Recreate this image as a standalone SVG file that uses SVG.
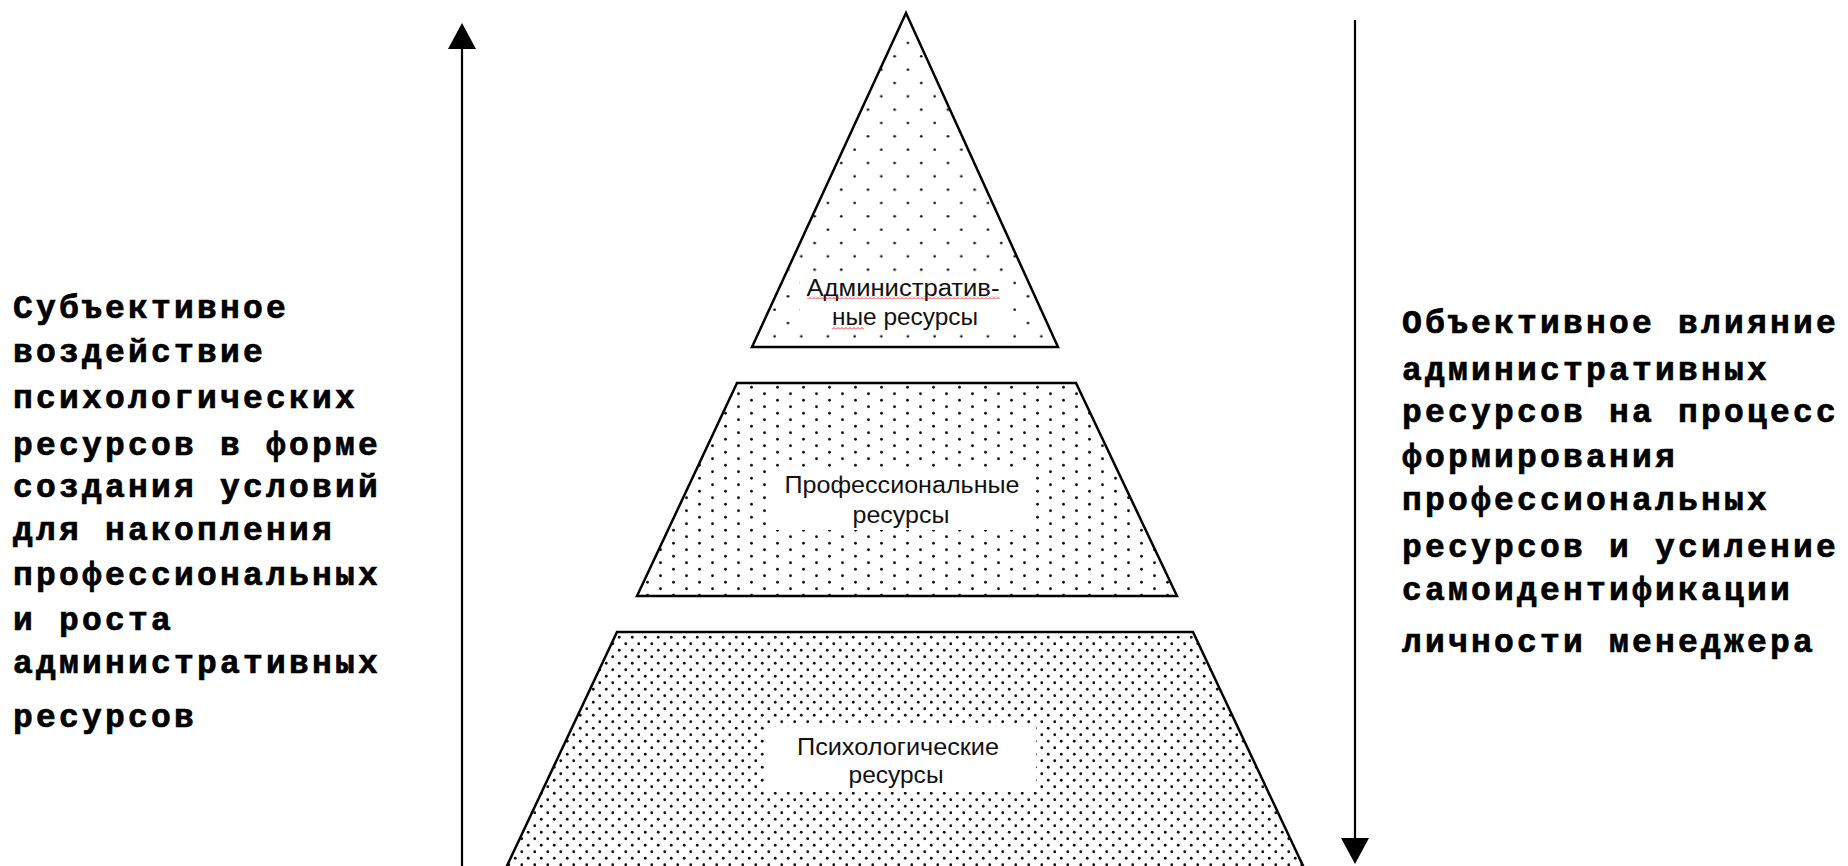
<svg xmlns="http://www.w3.org/2000/svg" width="1848" height="866" viewBox="0 0 1848 866">
<style>
.big{font-family:"Liberation Mono","DejaVu Sans Mono",monospace;font-weight:bold;font-size:33px;letter-spacing:3.2px;fill:#000;stroke:#000;stroke-width:0.7}
.lbl{font-family:"Liberation Sans Narrow","Liberation Sans",Arial,sans-serif;font-size:23px;fill:#111;text-anchor:middle}
.tier{stroke:#000;stroke-width:2.5;stroke-linejoin:miter}
.conn{stroke:#000;stroke-width:2.2;fill:none}
.box{fill:#fff;stroke:none}
</style>
<defs>
<pattern id="dotsTop" patternUnits="userSpaceOnUse" x="901.3" y="36.3" width="26.67" height="26.67">
<rect width="26.67" height="26.67" fill="#fff"/>
<circle cx="6.67" cy="6.67" r="1.35" fill="#111"/>
<circle cx="20" cy="20" r="1.35" fill="#111"/>
</pattern>
<pattern id="dotsMid" patternUnits="userSpaceOnUse" x="901" y="384" width="26" height="13">
<rect width="26" height="13" fill="#fff"/>
<circle cx="6.5" cy="3.25" r="1.4" fill="#111"/>
<circle cx="19.5" cy="9.75" r="1.4" fill="#111"/>
</pattern>
<pattern id="dotsBot" patternUnits="userSpaceOnUse" x="902" y="634" width="13" height="13">
<rect width="13" height="13" fill="#fff"/>
<circle cx="3.25" cy="3.25" r="1.4" fill="#111"/>
<circle cx="9.75" cy="9.75" r="1.4" fill="#111"/>
</pattern>
<pattern id="wave" patternUnits="userSpaceOnUse" width="4" height="3">
<path d="M0,2.5 L2,0.5 L4,2.5" fill="none" stroke="#d00" stroke-width="0.8"/>
</pattern>
<marker id="head" markerUnits="userSpaceOnUse" markerWidth="26" markerHeight="28" refX="0" refY="14" orient="auto" viewBox="0 0 26 28">
<path d="M0,0 L26,14 L0,28 Z" fill="#000"/>
</marker>
</defs>
<rect width="1848" height="866" fill="#fff"/>

<g id="connectors">
<line class="conn" x1="462" y1="866" x2="462" y2="49" marker-end="url(#head)"/>
<line class="conn" x1="1355" y1="20" x2="1355" y2="838" marker-end="url(#head)"/>
</g>

<g id="node-admin">
<polygon class="tier" points="906,13 752,347 1058,347" fill="url(#dotsTop)"/>
<rect class="box" x="800" y="272" width="210" height="55"/>
<text class="lbl" x="903" y="296" font-size="21" textLength="193" lengthAdjust="spacingAndGlyphs">Административ-</text>
<text class="lbl" x="905" y="325" font-size="21" textLength="146" lengthAdjust="spacingAndGlyphs">ные  ресурсы</text>
<rect x="807" y="296" width="193" height="3" fill="url(#wave)"/>
<rect x="832" y="327" width="32" height="3" fill="url(#wave)"/>
</g>

<g id="node-prof">
<polygon class="tier" points="737,383 1076,383 1177,596 637,596" fill="url(#dotsMid)"/>
<rect class="box" x="770" y="470" width="263" height="60"/>
<text class="lbl" x="902" y="493" textLength="235" lengthAdjust="spacingAndGlyphs">Профессиональные</text>
<text class="lbl" x="901" y="523" textLength="97" lengthAdjust="spacingAndGlyphs">ресурсы</text>
</g>

<g id="node-psych">
<polygon class="tier" points="617,632 1193,632 1305,870 505,870" fill="url(#dotsBot)"/>
<rect class="box" x="764" y="727" width="272" height="65"/>
<text class="lbl" x="898" y="755" textLength="202" lengthAdjust="spacingAndGlyphs">Психологические</text>
<text class="lbl" x="896" y="783" textLength="95" lengthAdjust="spacingAndGlyphs">ресурсы</text>
</g>

<g id="text-left" class="big">
<text x="13" y="318">Субъективное</text>
<text x="13" y="362">воздействие</text>
<text x="13" y="408">психологических</text>
<text x="13" y="455">ресурсов в форме</text>
<text x="13" y="497">создания условий</text>
<text x="13" y="540">для накопления</text>
<text x="13" y="585">профессиональных</text>
<text x="13" y="630">и роста</text>
<text x="13" y="673">административных</text>
<text x="13" y="727">ресурсов</text>
</g>

<g id="text-right" class="big">
<text x="1402" y="333">Объективное влияние</text>
<text x="1402" y="380">административных</text>
<text x="1402" y="422">ресурсов на процесс</text>
<text x="1402" y="467">формирования</text>
<text x="1402" y="510">профессиональных</text>
<text x="1402" y="557">ресурсов и усиление</text>
<text x="1402" y="600">самоидентификации</text>
<text x="1402" y="652">личности менеджера</text>
</g>
</svg>
